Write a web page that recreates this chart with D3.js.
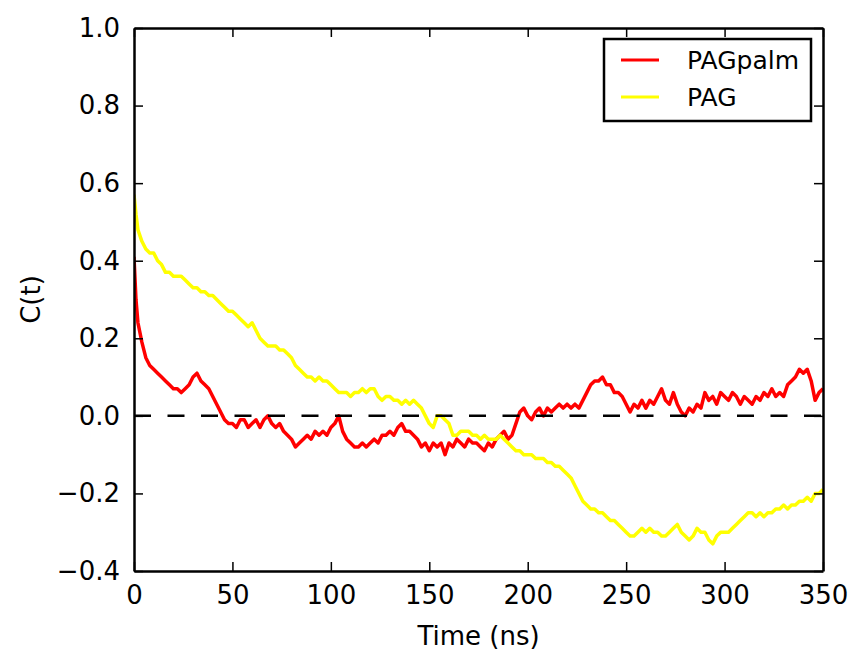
<!DOCTYPE html>
<html>
<head>
<meta charset="utf-8">
<script src="https://cdn.jsdelivr.net/npm/d3@7"></script>
<style>
  body { margin: 0; background: #fff; }
  svg { font-family: "DejaVu Sans", sans-serif; }
</style>
</head>
<body>
<script>
// time grid (ns)
var timeNs = [0, 1].concat(d3.range(2, 351, 2));

// PAGpalm C(t)
var pagPalm = [0.41, 0.30,
  0.24, 0.19, 0.15, 0.13, 0.12, 0.11, 0.10, 0.09, 0.08, 0.07,
  0.07, 0.06, 0.07, 0.08, 0.10, 0.11, 0.09, 0.08, 0.07, 0.05,
  0.03, 0.01, -0.01, -0.02, -0.02, -0.03, -0.01, -0.01, -0.03, -0.02,
  -0.01, -0.03, -0.01, 0.00, -0.02, -0.03, -0.02, -0.04, -0.05, -0.06,
  -0.08, -0.07, -0.06, -0.05, -0.06, -0.04, -0.05, -0.04, -0.05, -0.03,
  -0.02, 0.00, -0.04, -0.06, -0.07, -0.08, -0.08, -0.07, -0.08, -0.07,
  -0.06, -0.07, -0.05, -0.05, -0.04, -0.05, -0.03, -0.02, -0.04, -0.04,
  -0.05, -0.06, -0.08, -0.07, -0.09, -0.07, -0.08, -0.07, -0.10, -0.07,
  -0.08, -0.06, -0.07, -0.08, -0.06, -0.07, -0.07, -0.08, -0.09, -0.07,
  -0.08, -0.06, -0.05, -0.04, -0.06, -0.05, -0.02, 0.01, 0.02, 0.00,
  -0.01, 0.01, 0.02, 0.00, 0.02, 0.01, 0.02, 0.03, 0.02, 0.03,
  0.02, 0.03, 0.02, 0.04, 0.06, 0.08, 0.09, 0.09, 0.10, 0.08,
  0.08, 0.06, 0.06, 0.05, 0.03, 0.01, 0.03, 0.02, 0.04, 0.02,
  0.04, 0.03, 0.05, 0.07, 0.04, 0.03, 0.06, 0.03, 0.01, 0.00,
  0.02, 0.01, 0.03, 0.02, 0.06, 0.04, 0.05, 0.03, 0.06, 0.05,
  0.04, 0.06, 0.05, 0.03, 0.05, 0.04, 0.03, 0.05, 0.04, 0.06,
  0.05, 0.07, 0.05, 0.06, 0.05, 0.08, 0.09, 0.10, 0.12, 0.11,
  0.12, 0.09, 0.04, 0.06, 0.07];

// PAG C(t)
var pag = [0.57, 0.52,
  0.48, 0.45, 0.43, 0.42, 0.42, 0.40, 0.39, 0.37, 0.37, 0.36,
  0.36, 0.36, 0.35, 0.34, 0.33, 0.33, 0.32, 0.32, 0.31, 0.31,
  0.30, 0.29, 0.28, 0.27, 0.27, 0.26, 0.25, 0.24, 0.23, 0.24,
  0.22, 0.20, 0.19, 0.18, 0.18, 0.18, 0.17, 0.17, 0.16, 0.15,
  0.13, 0.12, 0.11, 0.10, 0.10, 0.09, 0.10, 0.09, 0.09, 0.08,
  0.07, 0.06, 0.06, 0.06, 0.05, 0.06, 0.06, 0.07, 0.06, 0.07,
  0.07, 0.05, 0.04, 0.05, 0.05, 0.04, 0.04, 0.03, 0.04, 0.03,
  0.04, 0.03, 0.02, 0.00, -0.02, -0.03, 0.00, 0.00, -0.01, -0.02,
  -0.05, -0.05, -0.04, -0.04, -0.04, -0.05, -0.05, -0.06, -0.05, -0.06,
  -0.06, -0.06, -0.05, -0.06, -0.07, -0.08, -0.09, -0.09, -0.10, -0.10,
  -0.10, -0.11, -0.11, -0.11, -0.12, -0.12, -0.13, -0.13, -0.14, -0.15,
  -0.16, -0.18, -0.20, -0.22, -0.23, -0.24, -0.24, -0.25, -0.25, -0.26,
  -0.27, -0.27, -0.28, -0.29, -0.30, -0.31, -0.31, -0.30, -0.29, -0.30,
  -0.29, -0.30, -0.30, -0.31, -0.31, -0.30, -0.29, -0.28, -0.30, -0.31,
  -0.32, -0.31, -0.29, -0.30, -0.30, -0.32, -0.33, -0.31, -0.30, -0.30,
  -0.30, -0.29, -0.28, -0.27, -0.26, -0.25, -0.25, -0.26, -0.25, -0.26,
  -0.25, -0.25, -0.24, -0.24, -0.23, -0.24, -0.23, -0.23, -0.22, -0.22,
  -0.21, -0.22, -0.20, -0.20, -0.19];

var xTicks = [0, 50, 100, 150, 200, 250, 300, 350];
var yTicks = [-0.4, -0.2, 0.0, 0.2, 0.4, 0.6, 0.8, 1.0];
var seriesNames = ["PAGpalm", "PAG"];
var seriesColors = ["#ff0000", "#ffff00"];

// margins
var MARGINS = {left: 134, right: 26, top: 28, bottom: 79};
var width = 849 - MARGINS.left - MARGINS.right;
var height = 650 - MARGINS.top - MARGINS.bottom;

var xScale = d3.scaleLinear().domain([0, 350]).range([0, width]);
var yScale = d3.scaleLinear().domain([-0.4, 1.0]).range([height, 0]);

var svg = d3.select("body").append("svg")
    .attr("width", 849)
    .attr("height", 650)
    .append("g")
    .attr("transform", "translate(" + MARGINS.left + "," + MARGINS.top + ")");

var line = d3.line()
    .x(function (d) { return xScale(d.x); })
    .y(function (d) { return yScale(d.y); });

svg.append("clipPath").attr("id", "clip")
    .append("rect").attr("width", width).attr("height", height);

[pagPalm, pag].forEach(function (vals, k) {
    var pts = timeNs.map(function (t, i) { return {x: t, y: vals[i]}; });
    svg.append("path").datum(pts)
        .attr("clip-path", "url(#clip)")
        .attr("fill", "none")
        .attr("stroke", seriesColors[k])
        .attr("stroke-width", 3.5)
        .attr("stroke-linejoin", "round")
        .attr("d", line);
});

// zero line
svg.append("line")
    .attr("x1", xScale(0)).attr("x2", xScale(350))
    .attr("y1", yScale(0)).attr("y2", yScale(0))
    .attr("stroke", "#000")
    .attr("stroke-width", 2.5)
    .attr("stroke-dasharray", "17,16.5");

// axes, inward ticks on all four sides
var fmtY = d3.format(".1f");
var axes = [
    svg.append("g").attr("transform", "translate(0," + height + ")")
        .call(d3.axisBottom(xScale).tickValues(xTicks).tickFormat(d3.format("d"))
            .tickSizeInner(-9).tickSizeOuter(0).tickPadding(15)),
    svg.append("g")
        .call(d3.axisLeft(yScale).tickValues(yTicks).tickFormat(fmtY)
            .tickSizeInner(-9).tickSizeOuter(0).tickPadding(14)),
    svg.append("g")
        .call(d3.axisTop(xScale).tickValues(xTicks).tickFormat("")
            .tickSizeInner(-9).tickSizeOuter(0)),
    svg.append("g").attr("transform", "translate(" + width + ",0)")
        .call(d3.axisRight(yScale).tickValues(yTicks).tickFormat("")
            .tickSizeInner(-9).tickSizeOuter(0))
];
axes.forEach(function (a) {
    a.select(".domain").attr("stroke-width", 2.5);
    a.selectAll(".tick line").attr("stroke-width", 1.5);
    a.selectAll(".tick text").attr("font-size", 26).attr("fill", "#000")
        .attr("font-family", "DejaVu Sans");
});

// axis labels
svg.append("text")
    .attr("x", width / 2).attr("y", height + 74)
    .attr("text-anchor", "middle")
    .attr("font-size", 26)
    .text("Time (ns)");

svg.append("text")
    .attr("transform", "translate(" + (-94) + "," + (height / 2) + ") rotate(-90)")
    .attr("text-anchor", "middle")
    .attr("font-size", 26)
    .text("C(t)");

// legend
var legend = svg.append("g").attr("transform", "translate(" + (604 - MARGINS.left) + "," + (39 - MARGINS.top) + ")");
legend.append("rect")
    .attr("width", 207).attr("height", 82)
    .attr("fill", "#fff").attr("stroke", "#000").attr("stroke-width", 2.5);
seriesNames.forEach(function (name, i) {
    var y = 21 + i * 37;
    legend.append("line")
        .attr("x1", 17).attr("x2", 55).attr("y1", y).attr("y2", y)
        .attr("stroke", seriesColors[i]).attr("stroke-width", 3);
    legend.append("text")
        .attr("x", 83).attr("y", y + 9)
        .attr("font-size", 25)
        .text(name);
});
</script>
</body>
</html>
